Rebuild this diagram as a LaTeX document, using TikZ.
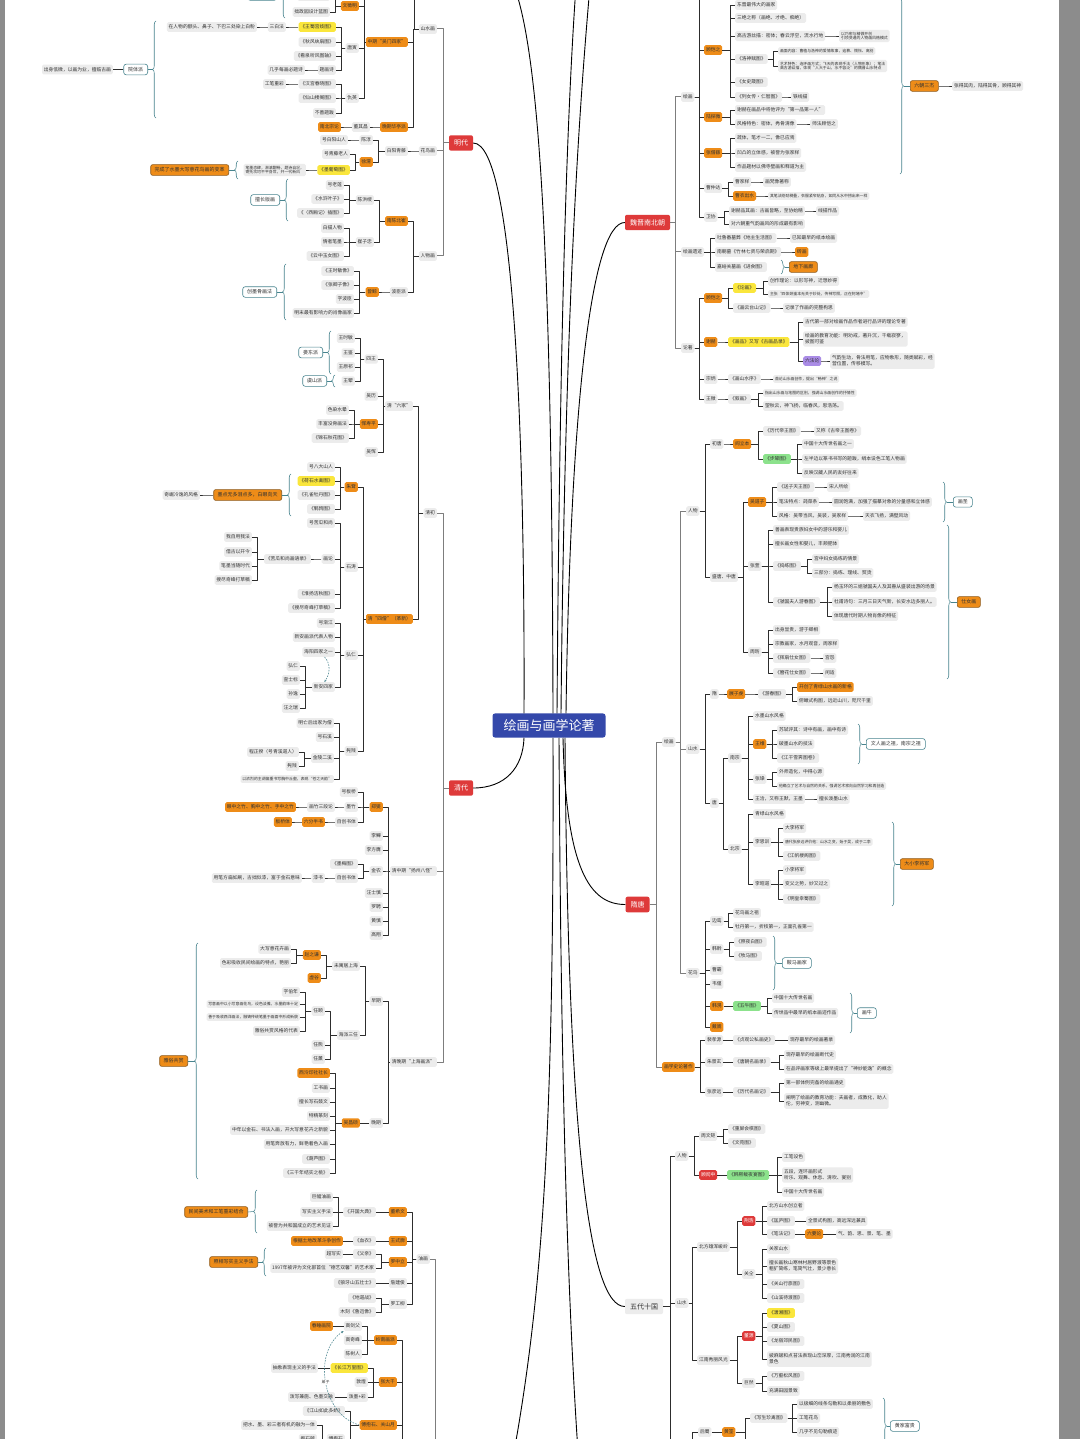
\documentclass[tikz,border=0pt]{standalone}
\usepackage{fontspec}
\setmainfont{Noto Sans CJK SC}
\usetikzlibrary{decorations.pathreplacing,arrows.meta}
\definecolor{ng}{RGB}{236,236,236}
\definecolor{no}{RGB}{238,140,24}
\definecolor{nob}{RGB}{140,90,30}
\definecolor{ny}{RGB}{250,230,60}
\definecolor{ngr}{RGB}{140,226,140}
\definecolor{npu}{RGB}{170,140,230}
\definecolor{nrd}{RGB}{222,58,58}
\definecolor{nte}{RGB}{72,132,142}
\definecolor{nbl}{RGB}{52,72,170}
\definecolor{lnc}{RGB}{45,45,45}
\definecolor{lng}{RGB}{125,125,125}
\definecolor{txc}{RGB}{50,50,50}
\definecolor{band}{RGB}{140,140,140}
\tikzset{
 base/.style={font=\fontsize{4.8}{5.8}\selectfont, inner xsep=1.8pt, inner ysep=2.6pt, rounded corners=1.6pt, text=txc},
 g/.style={base, fill=ng},
 o/.style={base, fill=no},
 yl/.style={base, fill=ny},
 gn/.style={base, fill=ngr},
 pu/.style={base, fill=npu},
 rd/.style={base, fill=nrd, text=white},
 ob/.style={base, fill=no, draw=nob, line width=0.6pt, font=\fontsize{5}{6}\selectfont, inner xsep=4pt, inner ysep=3pt, rounded corners=2pt},
 tb/.style={base, fill=white, draw=nte, line width=0.6pt, font=\fontsize{5}{6}\selectfont, inner xsep=4.5pt, inner ysep=3pt, rounded corners=2.5pt},
 sm/.style={font=\fontsize{3.9}{4.7}\selectfont, inner ysep=2pt},
 ml/.style={align=left},
 lvone/.style={font=\fontsize{7}{8}\selectfont, inner xsep=5pt, inner ysep=4.5pt, rounded corners=2pt, fill=nrd, text=white},
 lvg/.style={font=\fontsize{7}{8}\selectfont, inner xsep=5pt, inner ysep=4.5pt, rounded corners=2pt, fill=ng, text=txc},
 root/.style={font=\fontsize{13}{15}\selectfont, inner xsep=11pt, inner ysep=6pt, rounded corners=2.5pt, fill=nbl, text=white},
 conn/.style={draw=lnc, line width=0.6pt, line join=round},
 connb/.style={draw=lng, line width=1pt, line join=round},
 curve/.style={draw=black, line width=0.9pt},
 brc/.style={draw=nte, line width=0.55pt, decorate, decoration={brace, amplitude=3.5pt}},
 brl/.style={draw=nte, line width=0.55pt},
 dar/.style={draw=nte, line width=0.55pt, dash pattern=on 1.6pt off 1.2pt, -{Stealth[length=2.5pt,width=2pt]}},
}
\newcommand\nL[5]{\node[#1,anchor=east] (#2) at (#3,#4) {#5};}
\newcommand\nR[5]{\node[#1,anchor=west] (#2) at (#3,#4) {#5};}
\newcommand\lk[2]{\draw[conn] (#1.west) -| ([xshift=5pt]#2.east) -- (#2.east);}
\newcommand\rk[2]{\draw[conn] (#1.east) -| ([xshift=-5pt]#2.west) -- (#2.west);}
\newcommand\lkb[2]{\draw[connb] (#1.west) -| ([xshift=6pt]#2.east) -- (#2.east);}
\newcommand\rkb[2]{\draw[connb] (#1.east) -| ([xshift=-6pt]#2.west) -- (#2.west);}
\newcommand\bL[4]{\draw[brc] (#1,#3) -- (#1,#2); \draw[brl] (#1-3.5,{(#2+#3)/2}) -- (#4.east);}
\newcommand\bR[4]{\draw[brc] (#1,#2) -- (#1,#3); \draw[brl] (#1+3.5,{(#2+#3)/2}) -- (#4.west);}
\begin{document}
\begin{tikzpicture}[x=1pt,y=-1pt]
\useasboundingbox (0,0) rectangle (1080,1439);
\clip (0,0) rectangle (1080,1439);
\fill[white] (0,0) rectangle (1080,1439);
\fill[band] (0,0) rectangle (5,1439);
\fill[band] (1059,0) rectangle (1080,1439);

% ---------- root and level one ----------
\node[root] (root) at (549,725.5) {绘画与画学论著};
\node[lvone] (mingdai) at (461,143) {明代};
\node[lvone] (qingdai) at (461,788) {清代};
\node[lvone] (weijin) at (647.5,222.5) {魏晋南北朝};
\node[lvone] (suitang) at (637.5,904.5) {隋唐};
\node[lvg] (wudai) at (644,1306.5) {五代十国};
\coordinate (cta) at (514,-14);
\coordinate (ctb) at (576,-14);
\coordinate (ctc) at (590,-14);
\coordinate (cbe) at (514,1452);
\coordinate (cbf) at (578,1452);
\draw[curve] ([xshift=-25pt]root.north) .. controls (525,450) and (515,143) .. (mingdai.east);
\draw[curve] ([xshift=-25pt]root.south) .. controls (523,768) and (505,788) .. (qingdai.east);
\draw[curve] ([xshift=17pt]root.north) .. controls (570,420) and (590,222.5) .. (weijin.west);
\draw[curve] ([xshift=14pt]root.south) .. controls (566,870) and (590,904.5) .. (suitang.west);
\draw[curve] ([xshift=16pt]root.south) .. controls (568,1150) and (590,1306.5) .. (wudai.west);
\draw[curve] ([xshift=4pt]root.north) .. controls (552,300) and (542,60) .. (cta);
\draw[curve] ([xshift=8pt]root.north) .. controls (560,300) and (568,100) .. (ctb);
\draw[curve] ([xshift=12pt]root.north) .. controls (565,300) and (580,100) .. (ctc);
\draw[curve] ([xshift=4pt]root.south) .. controls (554,1100) and (545,1280) .. (cbe);
\draw[curve] ([xshift=10pt]root.south) .. controls (561,1100) and (568,1300) .. (cbf);

% ---------- 明代 ----------
\nL{g}{msh}{437}{29}{山水画}
\nL{g}{mhn}{437}{151}{花鸟画}
\nL{g}{mrw}{437}{256}{人物画}
\lkb{mingdai}{msh} \lkb{mingdai}{mhn} \lkb{mingdai}{mrw}
\coordinate (mshtop) at (414,-15);
\draw[conn] (msh.west) -| (mshtop);
\nL{o}{mwm}{408}{42}{中期“吴门四家”}
\nL{o}{mhp}{408}{127}{晚期华亭派}
\lk{msh}{mwm} \lk{msh}{mhp}
\coordinate (mwmtop) at (364,-15);
\draw[conn] (mwm.west) -| (mwmtop);
\nL{o}{mwzm}{359}{6}{文徵明}
\nL{g}{mty}{359}{48}{唐寅}
\nL{g}{mqy}{359}{98}{仇英}
\lk{mwm}{mwzm} \lk{mwm}{mty} \lk{mwm}{mqy}
\nL{g}{mwz1}{330}{-4}{《真赏斋图》}
\nL{g}{mwz2}{330}{12}{拙政园设计蓝图}
\lk{mwzm}{mwz1} \lk{mwzm}{mwz2}
\nL{tb}{mwzs}{277}{-5}{吴门画派}
\bL{285}{-28}{18}{mwzs}
\nL{yl}{mt1}{336}{27}{《王蜀宫妓图》}
\nL{g}{mt2}{336}{42}{《秋风纨扇图》}
\nL{g}{mt3}{336}{56}{《看泉听风图轴》}
\nL{g}{mt4}{336}{70}{题画诗}
\lk{mty}{mt1} \lk{mty}{mt2} \lk{mty}{mt3} \lk{mty}{mt4}
\nL{g}{mt1a}{286}{27}{三白法}
\nL{g}{mt1b}{257}{27}{在人物的额头、鼻子、下巴三处染上白粉}
\nL{g}{mt4a}{305}{70}{几乎每画必题诗}
\lk{mt1}{mt1a} \lk{mt1a}{mt1b} \lk{mt4}{mt4a}
\nL{g}{mq1}{336}{84}{《汉宫春晓图》}
\nL{g}{mq2}{336}{98}{《仙山楼阁图》}
\nL{g}{mq3}{336}{113}{不善题跋}
\lk{mqy}{mq1} \lk{mqy}{mq2} \lk{mqy}{mq3}
\nL{g}{mq1a}{286}{84}{工笔重彩}
\lk{mq1}{mq1a}
\nL{tb}{mqs}{148}{69.5}{院体派}
\bL{156}{21}{118}{mqs}
\nL{g}{mqs1}{113}{69.5}{出身低微，以画为业，擅临古画}
\lk{mqs}{mqs1}
\nL{g}{mdqc}{370}{127}{董其昌}
\nL{o}{mnb}{341}{127}{南北宗论}
\lk{mhp}{mdqc} \lk{mdqc}{mnb}
\nL{g}{mby}{408}{151}{白阳青藤}
\lk{mhn}{mby}
\nL{g}{mcc}{373}{140}{陈淳}
\nL{o}{mxw}{373}{162}{徐渭}
\lk{mby}{mcc} \lk{mby}{mxw}
\nL{g}{mcc1}{348}{140}{号白阳山人}
\lk{mcc}{mcc1}
\nL{g}{mxw1}{350}{154}{号青藤老人}
\nL{yl}{mxw2}{350}{170}{《墨葡萄图》}
\lk{mxw}{mxw1} \lk{mxw}{mxw2}
\nL{g,sm,ml}{mxw3}{306}{170}{笔墨恣肆，淋漓酣畅，题诗自况，\\寄托坎坷不平身世，开一代新风}
\lk{mxw2}{mxw3}
\nL{ob}{mxw4}{229}{170}{完成了水墨大写意花鸟画的变革}
\bL{238}{161}{179}{mxw4}
\nL{o}{mnc}{408}{221}{南陈北崔}
\nL{g}{mbc}{408}{292}{波臣派}
\lk{mrw}{mnc} \lk{mrw}{mbc}
\nL{g}{mchs}{374}{200}{陈洪绶}
\nL{g}{mczz}{374}{242}{崔子忠}
\lk{mnc}{mchs} \lk{mnc}{mczz}
\nL{g}{mc1}{344}{185}{号老莲}
\nL{g}{mc2}{344}{199}{《水浒叶子》}
\nL{g}{mc3}{344}{213}{《〈西厢记〉插图》}
\lk{mchs}{mc1} \lk{mchs}{mc2} \lk{mchs}{mc3}
\nL{tb}{mc4}{280}{200}{擅长版画}
\bL{288}{179}{221}{mc4}
\nL{g}{mz1}{344}{228}{白描人物}
\nL{g}{mz2}{344}{242}{情者笔墨}
\nL{g}{mz3}{344}{256}{《云中玉女图》}
\lk{mczz}{mz1} \lk{mczz}{mz2} \lk{mczz}{mz3}
\nL{o}{mzj}{379}{292}{曾鲸}
\lk{mbc}{mzj}
\nL{g}{mzj1}{354}{271}{《王时敏像》}
\nL{g}{mzj2}{354}{285}{《张卿子像》}
\nL{g}{mzj3}{354}{299}{字波臣}
\nL{g}{mzj4}{354}{313}{明末最有影响力的肖像画家}
\lk{mzj}{mzj1} \lk{mzj}{mzj2} \lk{mzj}{mzj3} \lk{mzj}{mzj4}
\nL{tb}{mzj5}{277}{292}{创墨骨画法}
\bL{286}{264}{320}{mzj5}

% ---------- 清代 ----------
\nL{g}{qqc}{437}{513}{清初}
\nL{g}{qyz}{437}{871}{清中期“扬州八怪”}
\nL{g}{qsh}{437}{1062}{清晚期“上海画派”}
\lkb{qingdai}{qqc} \lkb{qingdai}{qyz} \lkb{qingdai}{qsh}
\nL{g}{q6}{413}{406}{清“六家”}
\nL{o}{q4s}{413}{619}{清“四僧”（革新）}
\lk{qqc}{q6} \lk{qqc}{q4s}
\nL{g}{q4w}{378}{359}{四王}
\nL{g}{qwl}{378}{396}{吴历}
\nL{o}{qyun}{378}{424}{恽寿平}
\nL{g}{qwh}{378}{452}{吴恽}
\lk{q6}{q4w} \lk{q6}{qwl} \lk{q6}{qyun} \lk{q6}{qwh}
\nL{g}{qw1}{355}{338}{王时敏}
\nL{g}{qw2}{355}{353}{王鉴}
\nL{g}{qw3}{355}{367}{王原祁}
\nL{g}{qw4}{355}{381}{王翚}
\lk{q4w}{qw1} \lk{q4w}{qw2} \lk{q4w}{qw3} \lk{q4w}{qw4}
\nL{tb}{qw5}{323}{352.5}{娄东派}
\bL{331}{331}{374}{qw5}
\nL{tb}{qw6}{327}{381}{虞山派}
\bL{335}{375}{387}{qw6}
\nL{g}{qy1}{349}{410}{色染水晕}
\nL{g}{qy2}{349}{424}{丰富没骨画法}
\nL{g}{qy3}{349}{438}{《锦石秋花图》}
\lk{qyun}{qy1} \lk{qyun}{qy2} \lk{qyun}{qy3}
\nL{o}{qzd}{358}{487}{朱耷}
\nL{g}{qst}{358}{567}{石涛}
\nL{g}{qhr}{358}{655}{弘仁}
\nL{g}{qkc}{358}{751}{髡残}
\lk{q4s}{qzd} \lk{q4s}{qst} \lk{q4s}{qhr} \lk{q4s}{qkc}
\nL{g}{qzd1}{335}{467}{号八大山人}
\nL{yl}{qzd2}{335}{481}{《荷石水禽图》}
\nL{g}{qzd3}{335}{495}{《孔雀牡丹图》}
\nL{g}{qzd4}{335}{509}{《鹌鹑图》}
\lk{qzd}{qzd1} \lk{qzd}{qzd2} \lk{qzd}{qzd3} \lk{qzd}{qzd4}
\nL{ob}{qzd5}{282}{495}{墨点无多泪点多，白眼向天}
\bL{291}{474}{516}{qzd5}
\nL{g}{qzd6}{200}{495}{奇崛冷逸的风格}
\lk{qzd5}{qzd6}
\nL{g}{qst1}{335}{523}{号苦瓜和尚}
\nL{g}{qst2}{335}{559}{画论}
\nL{g}{qst3}{335}{594}{《淮扬洁秋图》}
\nL{g}{qst4}{335}{608}{《搜尽奇峰打草稿》}
\lk{qst}{qst1} \lk{qst}{qst2} \lk{qst}{qst3} \lk{qst}{qst4}
\nL{g}{qst5}{311}{559}{《苦瓜和尚画语录》}
\lk{qst2}{qst5}
\nL{g}{qst6}{252}{537}{我自用我法}
\nL{g}{qst7}{252}{552}{借古以开今}
\nL{g}{qst8}{252}{566}{笔墨当随时代}
\nL{g}{qst9}{252}{580}{搜尽奇峰打草稿}
\lk{qst5}{qst6} \lk{qst5}{qst7} \lk{qst5}{qst8} \lk{qst5}{qst9}
\nL{g}{qhr1}{335}{623}{号渐江}
\nL{g}{qhr2}{335}{637}{新安画派代表人物}
\nL{g}{qhr3}{335}{652}{海阳四家之一}
\nL{g}{qhr4}{335}{687}{新安四家}
\lk{qhr}{qhr1} \lk{qhr}{qhr2} \lk{qhr}{qhr3} \lk{qhr}{qhr4}
\nL{g}{qhr5}{300}{666}{弘仁}
\nL{g}{qhr6}{300}{680}{查士标}
\nL{g}{qhr7}{300}{694}{孙逸}
\nL{g}{qhr8}{300}{708}{汪之瑞}
\lk{qhr4}{qhr5} \lk{qhr4}{qhr6} \lk{qhr4}{qhr7} \lk{qhr4}{qhr8}
\draw[dar] ([xshift=6pt]qhr3.south) .. controls (331,664) and (330,674) .. ([xshift=1pt]qhr4.north);
\nL{g}{qkc1}{334}{723}{明亡后出家为僧}
\nL{g}{qkc2}{334}{737}{号石溪}
\nL{g}{qkc3}{334}{758}{金陵二溪}
\nL{g,sm}{qkc4}{334}{779}{以浓烈的主调偏重书写胸中丘壑，表现“苍之天韵”}
\lk{qkc}{qkc1} \lk{qkc}{qkc2} \lk{qkc}{qkc3} \lk{qkc}{qkc4}
\nL{g}{qkc5}{299}{752}{程正揆（号青溪道人）}
\nL{g}{qkc6}{299}{766}{髡残}
\lk{qkc3}{qkc5} \lk{qkc3}{qkc6}
\nL{o}{qzx}{383}{807}{郑燮}
\nL{g}{qls}{383}{836}{李鱓}
\nL{g}{qlfy}{383}{850}{李方膺}
\nL{g}{qjn}{383}{871}{金农}
\nL{g}{qwss}{383}{893}{汪士慎}
\nL{g}{qlp}{383}{907}{罗聘}
\nL{g}{qhs}{383}{921}{黄慎}
\nL{g}{qgx}{383}{935}{高翔}
\lk{qyz}{qzx} \lk{qyz}{qls} \lk{qyz}{qlfy} \lk{qyz}{qjn} \lk{qyz}{qwss} \lk{qyz}{qlp} \lk{qyz}{qhs} \lk{qyz}{qgx}
\nL{g}{qzx1}{358}{792}{号板桥}
\nL{g}{qzx2}{358}{807}{墨竹}
\nL{g}{qzx3}{358}{822}{自创书体}
\lk{qzx}{qzx1} \lk{qzx}{qzx2} \lk{qzx}{qzx3}
\nL{g}{qzx4}{335}{807}{画竹三段论}
\nL{o}{qzx5}{296}{807}{眼中之竹、胸中之竹、手中之竹}
\nL{o}{qzx6}{325}{822}{六分半书}
\nL{o}{qzx7}{292}{822}{板桥体}
\lk{qzx2}{qzx4} \lk{qzx4}{qzx5} \lk{qzx3}{qzx6} \lk{qzx6}{qzx7}
\nL{g}{qjn1}{358}{864}{《墨梅图》}
\nL{g}{qjn2}{358}{878}{自创书体}
\lk{qjn}{qjn1} \lk{qjn}{qjn2}
\nL{g}{qjn3}{325}{878}{漆书}
\nL{g}{qjn4}{302}{878}{用笔方扁如刷，古拙似漆，富于金石意味}
\lk{qjn2}{qjn3} \lk{qjn3}{qjn4}
\nL{g}{qzq}{383}{1001}{早期}
\nL{g}{qwq}{383}{1123}{晚期}
\lk{qsh}{qzq} \lk{qsh}{qwq}
\nL{g}{qzq1}{360}{966}{未寓居上海}
\nL{g}{qzq2}{360}{1035}{海派三任}
\lk{qzq}{qzq1} \lk{qzq}{qzq2}
\nL{o}{qzzq}{321}{955}{赵之谦}
\nL{o}{qxg}{321}{978}{虚谷}
\lk{qzq1}{qzzq} \lk{qzq1}{qxg}
\nL{g}{qzzq1}{291}{949}{大写意花卉画}
\nL{g}{qzzq2}{291}{963}{色彩吸收民间绘画的特点，艳丽}
\lk{qzzq}{qzzq1} \lk{qzzq}{qzzq2}
\nL{g}{qry}{325}{1011}{任颐}
\nL{g}{qrx}{325}{1045}{任熊}
\nL{g}{qrxn}{325}{1059}{任薰}
\lk{qzq2}{qry} \lk{qzq2}{qrx} \lk{qzq2}{qrxn}
\nL{g}{qry1}{300}{992}{字伯年}
\nL{g,sm}{qry2}{300}{1004}{写意画中以小写意画花鸟，设色淡雅，水墨韵味十足}
\nL{g,sm}{qry3}{300}{1017}{善于吸收西洋画法，融铸传统笔墨于画面中形成新貌}
\nL{g}{qry4}{300}{1031}{雅俗共赏风格的代表}
\lk{qry}{qry1} \lk{qry}{qry2} \lk{qry}{qry3} \lk{qry}{qry4}
\nL{o}{qwcs}{360}{1123}{吴昌硕}
\lk{qwq}{qwcs}
\nL{o}{qc1}{330}{1073}{西泠印社社长}
\nL{g}{qc2}{330}{1088}{工书画}
\nL{g}{qc3}{330}{1102}{擅长写石鼓文}
\nL{g}{qc4}{330}{1116}{特精篆刻}
\nL{g}{qc5}{330}{1130}{中年以金石、书法入画，开大写意花卉之新貌}
\nL{g}{qc6}{330}{1144}{用笔奔放有力，鲜艳着色入画}
\nL{g}{qc7}{330}{1159}{《葫芦图》}
\nL{g}{qc8}{330}{1173}{《三千年结实之桃》}
\lk{qwcs}{qc1} \lk{qwcs}{qc2} \lk{qwcs}{qc3} \lk{qwcs}{qc4} \lk{qwcs}{qc5} \lk{qwcs}{qc6} \lk{qwcs}{qc7} \lk{qwcs}{qc8}
\nL{ob}{qysg}{188}{1061}{雅俗共赏}
\bL{198}{943}{1179}{qysg}

% ---------- 近现代 (bottom left) ----------
\coordinate (pyou) at (435,1455);
\nL{g}{byh}{430}{1259}{油画}
\draw[connb] (byh.east) -| (pyou);
\nL{o}{bdxw}{407}{1212}{董希文}
\nL{o}{bwsk}{407}{1241}{王式廓}
\nL{o}{blzl}{407}{1262}{罗中立}
\nL{g}{bzjj}{407}{1283}{詹建俊}
\nL{g}{blgl}{407}{1304}{罗工柳}
\lk{byh}{bdxw} \lk{byh}{bwsk} \lk{byh}{blzl} \lk{byh}{bzjj} \lk{byh}{blgl}
\nL{g}{bkg}{376}{1212}{《开国大典》}
\lk{bdxw}{bkg}
\nL{g}{bkg1}{333}{1197}{巨幅油画}
\nL{g}{bkg2}{333}{1212}{写实主义手法}
\nL{g}{bkg3}{333}{1226}{被誉为共和国成立的艺术见证}
\lk{bkg}{bkg1} \lk{bkg}{bkg2} \lk{bkg}{bkg3}
\nL{ob}{bkg4}{248}{1212}{民间美术和工笔重彩结合}
\bL{257}{1190}{1233}{bkg4}
\nL{g}{bxy}{376}{1241}{《血衣》}
\nL{o}{bxy1}{343}{1241}{根据土地改革斗争创作}
\lk{bwsk}{bxy} \lk{bxy}{bxy1}
\nL{g}{bfq}{376}{1254}{《父亲》}
\nL{g}{blz2}{376}{1268}{1997年被评为文化部首位“德艺双馨”的艺术家}
\lk{blzl}{bfq} \lk{blzl}{blz2}
\nL{g}{bfq1}{343}{1254}{超写实}
\lk{bfq}{bfq1}
\nL{ob}{blz3}{258}{1262}{照相写实主义手法}
\bL{266}{1248}{1276}{blz3}
\nL{g}{blys}{376}{1283}{《狼牙山五壮士》}
\lk{bzjj}{blys}
\nL{g}{bddz}{376}{1298}{《地道战》}
\nL{g}{blx}{376}{1312}{木刻《鲁迅像》}
\lk{blgl}{bddz} \lk{blgl}{blx}
\coordinate (pzg) at (402,1455);
\nL{o}{bln}{397}{1340}{岭南画派}
\nL{o}{bzdq}{397}{1382}{张大千}
\nL{o}{bfg}{397}{1425}{傅抱石、关山月}
\draw[conn] (bln.east) -| (pzg);
\draw[conn] (bzdq.east) -| (pzg);
\draw[conn] (bfg.east) -| (pzg);
\nL{g}{bgjf}{362}{1326}{高剑父}
\nL{g}{bgqf}{362}{1340}{高奇峰}
\nL{g}{bcsr}{362}{1354}{陈树人}
\lk{bln}{bgjf} \lk{bln}{bgqf} \lk{bln}{bcsr}
\nL{o}{bgjf1}{333}{1326}{春睡画院}
\lk{bgjf}{bgjf1}
\nL{yl}{bcj}{368}{1368}{《长江万里图》}
\nL{g}{bdh}{368}{1382}{敦煌}
\nL{g}{bpm}{368}{1397}{泼墨+彩}
\lk{bzdq}{bcj} \lk{bzdq}{bdh} \lk{bzdq}{bpm}
\nL{g}{bcj1}{318}{1368}{抽象表现主义的手法}
\nL{g}{bpm1}{335}{1397}{泼写兼施、色墨交融}
\lk{bcj}{bcj1} \lk{bpm}{bpm1}
\nL{g}{bjs}{345}{1411}{《江山如此多娇》}
\nL{g}{bfbs}{345}{1439}{傅抱石}
\lk{bfg}{bjs} \lk{bfg}{bfbs}
\nL{g}{bfbs1}{317}{1425}{把水、墨、彩三者有机的融为一体}
\nL{g}{bfbs2}{317}{1439}{抱石皴}
\lk{bfbs}{bfbs1} \lk{bfbs}{bfbs2}
\draw[dar] (bfg.west) .. controls (322,1415) and (312,1352) .. (bgjf.south west) node[pos=0.5, font=\fontsize{3.9}{4.7}\selectfont, fill=white, inner sep=0.6pt, text=txc] (dz) {弟子};

% ---------- 魏晋南北朝 ----------
\nR{g}{whh}{681}{97}{绘画}
\nR{g}{wyj}{681}{252}{绘画遗迹}
\nR{g}{wlz}{681}{348}{论著}
\rkb{weijin}{whh} \rkb{weijin}{wyj} \rkb{weijin}{wlz}
\coordinate (wtop) at (699,-15);
\draw[conn] (whh.east) -| (wtop);
\nR{o}{wgkz}{704}{50}{顾恺之}
\nR{o}{wltw}{704}{117}{陆探微}
\nR{o}{wzsy}{704}{153}{张僧繇}
\nR{g}{wczd}{704}{188}{曹仲达}
\nR{g}{wwx}{704}{217}{卫协}
\rk{whh}{wgkz} \rk{whh}{wltw} \rk{whh}{wzsy} \rk{whh}{wczd} \rk{whh}{wwx}
\nR{g}{wg1}{735}{5}{东晋最伟大的画家}
\nR{g}{wg2}{735}{18}{三绝之称（画绝、才绝、痴绝）}
\nR{g}{wg3}{735}{36}{高古游丝描：密体；春云浮空，流水行地}
\nR{g}{wg4}{735}{59}{《洛神赋图》}
\nR{g}{wg5}{735}{82}{《女史箴图》}
\nR{g}{wg6}{735}{97}{《列女传·仁智图》}
\rk{wgkz}{wg1} \rk{wgkz}{wg2} \rk{wgkz}{wg3} \rk{wgkz}{wg4} \rk{wgkz}{wg5} \rk{wgkz}{wg6}
\nR{g,sm,ml}{wg3a}{839}{36}{以巧密与精微开创\\引领变通的人物画风格模式}
\rk{wg3}{wg3a}
\nR{g,sm}{wg4a}{778}{51}{画面内容：曹植与洛神的爱情故事，追慕、惆怅、离别}
\nR{g,sm,ml}{wg4b}{778}{66}{艺术特色：连环画方式；飞天的表现手法（人物形象）；笔法\\高古游丝描，体现“人大于山，水不容泛”的魏晋山水特点}
\rk{wg4}{wg4a} \rk{wg4}{wg4b}
\nR{g}{wg6a}{791}{97}{铁线描}
\rk{wg6}{wg6a}
\nR{ob}{wlc}{910}{86}{六朝三杰}
\bR{900}{-2}{174}{wlc}
\nR{g}{wlc1}{952}{86}{张得其肉，陆得其骨，顾得其神}
\rk{wlc}{wlc1}
\nR{g}{wl1}{735}{110}{谢赫在画品中将他评为“第一品第一人”}
\nR{g}{wl2}{735}{124}{风格特色：密体，秀骨清像}
\rk{wltw}{wl1} \rk{wltw}{wl2}
\nR{g}{wl3}{810}{124}{师法顾恺之}
\rk{wl2}{wl3}
\nR{g}{wz1}{735}{138}{疏体，笔才一二，像已应焉}
\nR{g}{wz2}{735}{153}{凹凸的立体感，被誉为张家样}
\nR{g}{wz3}{735}{167}{作品题材以佛寺壁画和释道为主}
\rk{wzsy}{wz1} \rk{wzsy}{wz2} \rk{wzsy}{wz3}
\nR{g}{wc1}{733}{182}{曹家样}
\nR{o}{wc2}{733}{196}{曹衣出水}
\rk{wczd}{wc1} \rk{wczd}{wc2}
\nR{g}{wc1a}{763}{182}{画梵像著称}
\nR{g,sm}{wc2a}{768}{196}{其笔法刚劲稠叠，衣服紧窄贴身，如同从水中捞出来一样}
\rk{wc1}{wc1a} \rk{wc2}{wc2a}
\nR{g}{wx1}{729}{211}{谢赫品其画：古画皆略，至协始精}
\nR{g}{wx2}{729}{224}{对六朝重气韵画风的形成最有影响}
\rk{wwx}{wx1} \rk{wwx}{wx2}
\nR{g}{wx1a}{816}{211}{线描作品}
\rk{wx1}{wx1a}
\nR{g}{wy1}{715}{238}{吐鲁番墓葬《地主生活图》}
\nR{g}{wy2}{715}{252}{南朝墓《竹林七贤与荣启期》}
\nR{g}{wy3}{715}{267}{嘉峪关墓画《进食图》}
\rk{wyj}{wy1} \rk{wyj}{wy2} \rk{wyj}{wy3}
\nR{g}{wy1a}{790}{238}{已知最早的纸本绘画}
\nR{o}{wy2a}{795}{252}{砖画}
\rk{wy1}{wy1a} \rk{wy2}{wy2a}
\nR{ob}{wy3a}{789}{267}{地下画廊}
\bR{781}{260}{274}{wy3a}
\nR{o}{wgk}{704}{298}{顾恺之}
\nR{o}{wxh}{704}{342}{谢赫}
\nR{g}{wzb}{704}{379}{宗炳}
\nR{g}{www}{704}{399}{王微}
\rk{wlz}{wgk} \rk{wlz}{wxh} \rk{wlz}{wzb} \rk{wlz}{www}
\nR{yl}{wgk1}{733}{288}{《论画》}
\nR{g}{wgk2}{733}{308}{《画云台山记》}
\rk{wgk}{wgk1} \rk{wgk}{wgk2}
\nR{g}{wgk3}{768}{281}{创作理论：以形写神，迁想妙得}
\nR{g,sm}{wgk4}{768}{294}{主张“四体妍蚩本无关于妙处，传神写照，正在阿堵中”}
\rk{wgk1}{wgk3} \rk{wgk1}{wgk4}
\nR{g}{wgk5}{783}{308}{记录了作画的完整构思}
\rk{wgk2}{wgk5}
\nR{yl}{whp}{728}{342}{《画品》又写《古画品录》}
\rk{wxh}{whp}
\nR{g}{whp1}{803}{322}{古代第一部对绘画作品作者进行品评的理论专著}
\nR{g,ml}{whp2}{803}{339}{绘画的教育功能：明劝戒，著升沉，千载寂寥，\\披图可鉴}
\nR{pu}{whp3}{803}{361}{六法论}
\rk{whp}{whp1} \rk{whp}{whp2} \rk{whp}{whp3}
\nR{g,ml}{whp4}{830}{361}{气韵生动，骨法用笔，应物象形，随类赋彩，经\\营位置，传移模写。}
\rk{whp3}{whp4}
\nR{g}{wzb1}{728}{379}{《画山水序》}
\nR{g,sm}{wzb2}{773}{379}{首论山水画创作，提出“畅神”之说}
\rk{wzb}{wzb1} \rk{wzb1}{wzb2}
\nR{g}{www1}{728}{399}{《叙画》}
\rk{www}{www1}
\nR{g,sm}{www2}{763}{393}{指出山水画与地图的区别，强调山水画创作的抒情性}
\nR{g}{www3}{763}{406}{望秋云，神飞扬，临春风，思浩荡。}
\rk{www1}{www2} \rk{www1}{www3}

% ---------- 隋唐 ----------
\nR{g}{shh}{662}{742}{绘画}
\nR{o}{slz}{662}{1067}{画学史论著作}
\rkb{suitang}{shh} \rkb{suitang}{slz}
\nR{g}{srw}{686}{511}{人物}
\nR{g}{sss}{686}{749}{山水}
\nR{g}{shn}{686}{973}{花鸟}
\rkb{shh}{srw} \rkb{shh}{sss} \rkb{shh}{shn}
\nR{g}{scht}{710}{444}{初唐}
\nR{g}{ssht}{710}{577}{盛唐、中唐}
\rk{srw}{scht} \rk{srw}{ssht}
\nR{o}{sylb}{733}{444}{阎立本}
\rk{scht}{sylb}
\nR{g}{sylb1}{763}{431}{《历代帝王图》}
\nR{gn}{sylb2}{763}{459}{《步辇图》}
\rk{sylb}{sylb1} \rk{sylb}{sylb2}
\nR{g}{sylb1a}{814}{431}{又称《古帝王图卷》}
\rk{sylb1}{sylb1a}
\nR{g}{sb1}{802}{444}{中国十大传世名画之一}
\nR{g}{sb2}{802}{459}{左半边以篆书书写的题跋，绢本设色工笔人物画}
\nR{g}{sb3}{802}{473}{反映汉藏人民的友好往来}
\rk{sylb2}{sb1} \rk{sylb2}{sb2} \rk{sylb2}{sb3}
\nR{o}{swdz}{748}{502}{吴道子}
\nR{g}{szx}{748}{566}{张萱}
\nR{g}{szf}{748}{652}{周昉}
\rk{ssht}{swdz} \rk{ssht}{szx} \rk{ssht}{szf}
\nR{g}{sw1}{777}{487}{《送子天王图》}
\nR{g}{sw2}{777}{502}{笔法特点：莼菜条}
\nR{g}{sw3}{777}{516}{风格：吴带当风，吴装，吴家样}
\rk{swdz}{sw1} \rk{swdz}{sw2} \rk{swdz}{sw3}
\nR{g}{sw1a}{827}{487}{宋人所绘}
\nR{g}{sw2a}{832}{502}{圆润饱满，加强了描摹对象的分量感和立体感}
\nR{g}{sw3a}{863}{516}{天衣飞扬，满壁风动}
\rk{sw1}{sw1a} \rk{sw2}{sw2a} \rk{sw3}{sw3a}
\nR{tb}{shs}{953}{502}{画圣}
\bR{943}{482}{522}{shs}
\nR{g}{sx1}{773}{530}{善画表现贵族妇女中的游乐和婴儿}
\nR{g}{sx2}{773}{544}{擅长画女性和婴儿，丰颊肥体}
\nR{g}{sx3}{773}{566}{《捣练图》}
\nR{g}{sx4}{773}{602}{《虢国夫人游春图》}
\rk{szx}{sx1} \rk{szx}{sx2} \rk{szx}{sx3} \rk{szx}{sx4}
\nR{g}{sx3a}{812}{559}{宫中妇女捣练的情景}
\nR{g}{sx3b}{812}{573}{三部分：捣练、理线、熨烫}
\rk{sx3}{sx3a} \rk{sx3}{sx3b}
\nR{g}{sx4a}{832}{587}{杨玉环的三姐虢国夫人及其眷从盛装出游的场景}
\nR{g}{sx4b}{832}{602}{杜甫诗句：三月三日天气新，长安水边多丽人。}
\nR{g}{sx4c}{832}{616}{体现唐代时期人物肖像的特征}
\rk{sx4}{sx4a} \rk{sx4}{sx4b} \rk{sx4}{sx4c}
\nR{g}{sf1}{773}{630}{出身显贵，游于卿相}
\nR{g}{sf2}{773}{644}{宗教画家，水月观音，周家样}
\nR{g}{sf3}{773}{658}{《挥扇仕女图》}
\nR{g}{sf4}{773}{673}{《簪花仕女图》}
\rk{szf}{sf1} \rk{szf}{sf2} \rk{szf}{sf3} \rk{szf}{sf4}
\nR{g}{sf3a}{823}{658}{宫怨}
\nR{g}{sf4a}{823}{673}{闲适}
\rk{sf3}{sf3a} \rk{sf4}{sf4a}
\nR{ob}{ssnh}{957}{602}{仕女画}
\bR{947}{525}{679}{ssnh}
\nR{g}{ssui}{710}{694}{隋}
\nR{g}{stang}{710}{803}{唐}
\rk{sss}{ssui} \rk{sss}{stang}
\nR{o}{szzq}{727}{694}{展子虔}
\nR{g}{syct}{758}{694}{《游春图》}
\rk{ssui}{szzq} \rk{szzq}{syct}
\nR{o}{syct1}{797}{687}{开创了青绿山水画的新格}
\nR{g}{syct2}{797}{701}{俯瞰式构图，远近山川，咫尺千里}
\rk{syct}{syct1} \rk{syct}{syct2}
\nR{g}{snz}{728}{758}{南宗}
\nR{g}{sbz}{728}{849}{北宗}
\rk{stang}{snz} \rk{stang}{sbz}
\nR{g}{sn1}{753}{716}{水墨山水风格}
\nR{o}{swv}{753}{744}{王维}
\nR{g}{szz}{753}{779}{张璪}
\nR{g}{swq}{753}{799}{王洽，又称王默，王墨}
\rk{snz}{sn1} \rk{snz}{swv} \rk{snz}{szz} \rk{snz}{swq}
\nR{g}{swq1}{817}{799}{擅长泼墨山水}
\rk{swq}{swq1}
\nR{g}{swv1}{777}{730}{苏轼评其：诗中有画，画中有诗}
\nR{g}{swv2}{777}{744}{破墨山水的技法}
\nR{g}{swv3}{777}{758}{《江干雪霁图卷》}
\rk{swv}{swv1} \rk{swv}{swv2} \rk{swv}{swv3}
\nR{tb}{swv4}{866}{744}{文人画之祖，南宗之祖}
\bR{858}{724}{764}{swv4}
\nR{g}{szz1}{777}{772}{外师造化，中得心源}
\nR{g,sm}{szz2}{777}{786}{他确立了艺术与自然的关系，强调艺术家向自然学习和再创造}
\rk{szz}{szz1} \rk{szz}{szz2}
\nR{g}{sbz1}{753}{814}{青绿山水风格}
\nR{g}{slsx}{753}{842}{李思训}
\nR{g}{slzd}{753}{884}{李昭道}
\rk{sbz}{sbz1} \rk{sbz}{slsx} \rk{sbz}{slzd}
\nR{g}{sls1}{783}{828}{大李将军}
\nR{g,sm}{sls2}{783}{842}{唐代张彦远评价他：山水之变，始于吴，成于二李}
\nR{g}{sls3}{783}{856}{《江帆楼阁图》}
\rk{slsx}{sls1} \rk{slsx}{sls2} \rk{slsx}{sls3}
\nR{g}{slz1}{783}{870}{小李将军}
\nR{g}{slz2}{783}{884}{变父之势，妙又过之}
\nR{g}{slz3}{783}{899}{《明皇幸蜀图》}
\rk{slzd}{slz1} \rk{slzd}{slz2} \rk{slzd}{slz3}
\nR{ob}{sdxl}{900}{864}{大小李将军}
\bR{892}{822}{906}{sdxl}
\nR{g}{sbl}{710}{921}{边鸾}
\nR{g}{shg}{710}{949}{韩幹}
\nR{g}{scb}{710}{970}{曹霸}
\nR{g}{swy}{710}{984}{韦偃}
\nR{o}{shh2}{710}{1006}{韩滉}
\nR{o}{sds}{710}{1027}{戴嵩}
\rk{shn}{sbl} \rk{shn}{shg} \rk{shn}{scb} \rk{shn}{swy} \rk{shn}{shh2} \rk{shn}{sds}
\nR{g}{sbl1}{733}{913}{花鸟画之祖}
\nR{g}{sbl2}{733}{927}{牡丹第一，折枝第一，正面孔雀第一}
\rk{sbl}{sbl1} \rk{sbl}{sbl2}
\nR{g}{shg1}{734}{942}{《照夜白图》}
\nR{g}{shg2}{734}{956}{《牧马图》}
\rk{shg}{shg1} \rk{shg}{shg2}
\nR{tb}{samh}{782}{963}{鞍马画家}
\bR{773}{936}{990}{samh}
\nR{gn}{swnt}{733}{1006}{《五牛图》}
\rk{shh2}{swnt}
\nR{g}{swn1}{772}{998}{中国十大传世名画}
\nR{g}{swn2}{772}{1013}{传世品中最早的纸本画迹作品}
\rk{swnt}{swn1} \rk{swnt}{swn2}
\nR{tb}{shn2}{857}{1013}{画牛}
\bR{850}{993}{1033}{shn2}
\nR{g}{spxy}{705}{1040}{裴孝源}
\nR{g}{szjx}{705}{1062}{朱景玄}
\nR{g}{szyy}{705}{1092}{张彦远}
\rk{slz}{spxy} \rk{slz}{szjx} \rk{slz}{szyy}
\nR{g}{spxy1}{733}{1040}{《贞观公私画史》}
\nR{g}{spxy2}{788}{1040}{现存最早的绘画著录}
\rk{spxy}{spxy1} \rk{spxy1}{spxy2}
\nR{g}{szjx1}{733}{1062}{《唐朝名画录》}
\rk{szjx}{szjx1}
\nR{g}{szjx2}{784}{1055}{现存最早的绘画断代史}
\nR{g}{szjx3}{784}{1069}{在品评画家等级上最早提出了“神妙能逸”的概念}
\rk{szjx1}{szjx2} \rk{szjx1}{szjx3}
\nR{g}{szyy1}{733}{1092}{《历代名画记》}
\rk{szyy}{szyy1}
\nR{g}{szyy2}{784}{1083}{第一部体例完备的绘画通史}
\nR{g,ml}{szyy3}{784}{1101}{阐明了绘画的教育功能：夫画者，成教化，助人\\伦，穷神变，测幽微。}
\rk{szyy1}{szyy2} \rk{szyy1}{szyy3}

% ---------- 五代十国 ----------
\nR{g}{frw}{675}{1156}{人物}
\nR{g}{fss}{675}{1303}{山水}
\coordinate (fbot) at (670,1455);
\rk{wudai}{frw} \rk{wudai}{fss}
\draw[conn] (wudai.east) -| (fbot);
\nR{g}{fzwj}{699}{1136}{周文矩}
\nR{rd}{fghz}{699}{1175}{顾闳中}
\rk{frw}{fzwj} \rk{frw}{fghz}
\nR{g}{fz1}{728}{1129}{《重屏会棋图》}
\nR{g}{fz2}{728}{1143}{《文苑图》}
\rk{fzwj}{fz1} \rk{fzwj}{fz2}
\nR{gn}{fhx}{727}{1175}{《韩熙载夜宴图》}
\rk{fghz}{fhx}
\nR{g}{fhx1}{782}{1157}{工笔设色}
\nR{g,ml}{fhx2}{782}{1175}{五段，连环画形式\\听乐、观舞、休息、清吹、宴别}
\nR{g}{fhx3}{782}{1192}{中国十大传世名画}
\rk{fhx}{fhx1} \rk{fhx}{fhx2} \rk{fhx}{fhx3}
\nR{g}{fbf}{697}{1247}{北方雄浑峻岭}
\nR{g}{fjn}{697}{1360}{江南秀丽风光}
\rk{fss}{fbf} \rk{fss}{fjn}
\nR{rd}{fjh}{742}{1221}{荆浩}
\nR{g}{fgt}{742}{1274}{关仝}
\rk{fbf}{fjh} \rk{fbf}{fgt}
\nR{g}{fjh1}{767}{1206}{北方山水创立者}
\nR{g}{fjh2}{767}{1221}{《匡庐图》}
\nR{g}{fjh3}{767}{1234}{《笔法记》}
\rk{fjh}{fjh1} \rk{fjh}{fjh2} \rk{fjh}{fjh3}
\nR{g}{fjh2a}{806}{1221}{全景式构图，高远深远兼具}
\rk{fjh2}{fjh2a}
\nR{o}{fjh3a}{805}{1234}{六要论}
\nR{g}{fjh3b}{836}{1234}{气、韵、思、景、笔、墨}
\rk{fjh3}{fjh3a} \rk{fjh3a}{fjh3b}
\nR{g}{fgt1}{767}{1249}{关家山水}
\nR{g,ml}{fgt2}{767}{1266}{擅长画秋山寒林村居野渡等景色\\粗犷简练，笔简气壮，景少意长}
\nR{g}{fgt3}{767}{1284}{《关山行旅图》}
\nR{g}{fgt4}{767}{1298}{《山溪待渡图》}
\rk{fgt}{fgt1} \rk{fgt}{fgt2} \rk{fgt}{fgt3} \rk{fgt}{fgt4}
\nR{rd}{fdy}{742}{1336}{董源}
\nR{g}{fjr}{742}{1383}{巨然}
\rk{fjn}{fdy} \rk{fjn}{fjr}
\nR{yl}{fdy1}{767}{1313}{《潇湘图》}
\nR{g}{fdy2}{767}{1327}{《夏山图》}
\nR{g}{fdy3}{767}{1341}{《龙宿郊民图》}
\nR{g,ml}{fdy4}{767}{1359}{披麻皴和点苔法表现山峦深厚，江南秀润的江南\\景色}
\rk{fdy}{fdy1} \rk{fdy}{fdy2} \rk{fdy}{fdy3} \rk{fdy}{fdy4}
\nR{g}{fjr1}{767}{1376}{《万壑松风图》}
\nR{g}{fjr2}{767}{1391}{充满田园景致}
\rk{fjr}{fjr1} \rk{fjr}{fjr2}
\coordinate (fhnp) at (692,1455);
\nR{g}{fhs}{698}{1432}{后蜀}
\draw[conn] (fhnp) |- (fhs.west);
\nR{o}{fhq}{722}{1432}{黄筌}
\rk{fhs}{fhq}
\nR{g}{fxs}{750}{1418}{《写生珍禽图》}
\rk{fhq}{fxs}
\coordinate (fhqb) at (745,1455);
\draw[conn] (fhq.east) -| (fhqb);
\nR{g}{fxs1}{797}{1404}{以极细的线条勾勒和以柔丽的敷色}
\nR{g}{fxs2}{797}{1418}{工笔花鸟}
\nR{g}{fxs3}{797}{1432}{几乎不见勾勒痕迹}
\rk{fxs}{fxs1} \rk{fxs}{fxs2} \rk{fxs}{fxs3}
\nR{tb}{fhjfg}{890}{1426}{黄家富贵}
\bR{883}{1398}{1454}{fhjfg}
\end{tikzpicture}
\end{document}
